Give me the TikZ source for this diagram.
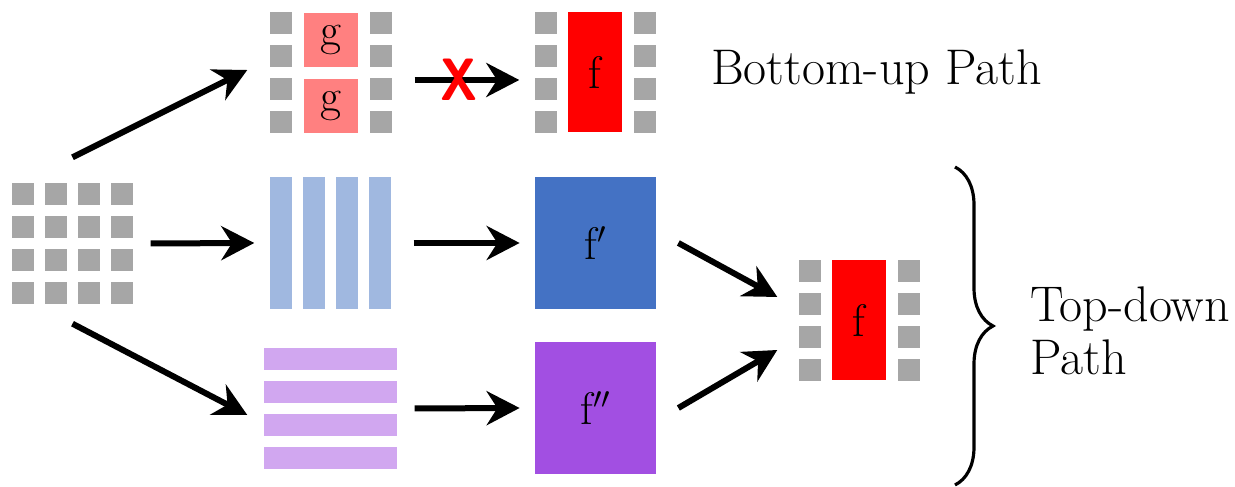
\documentclass[tikz,border=0pt]{standalone}
\usepackage{tikz}
\usepackage{amsmath}
\usepackage{xcolor}
\usetikzlibrary{arrows.meta, positioning, fit, calc, decorations.pathreplacing}
\definecolor{cellgray}{HTML}{A6A6A6}
\definecolor{gpink}{HTML}{FF8080}
\definecolor{fred}{HTML}{FF0000}
\definecolor{barblue}{HTML}{A0B8E0}
\definecolor{fblue}{HTML}{4472C4}
\definecolor{barpurple}{HTML}{D1A7F0}
\definecolor{fpurple}{HTML}{A24FE2}

\begin{document}
\begin{tikzpicture}[
  every node/.style={font=\fontsize{26}{31}\selectfont},
  pathlabel/.style={inner sep=0pt, font=\fontsize{28.5}{30.5}\selectfont},
  cell/.style={rectangle, fill=cellgray, minimum size=0.44cm, inner sep=0pt},
  feat/.style={rectangle, inner sep=0pt},
  blk/.style={inner sep=0pt},
  arr/.style={-{Stealth[length=0.66cm, width=0.68cm]}, line width=0.12cm},
]
\useasboundingbox (0,0) rectangle (24.7,9.74);

% Input feature map
\foreach \i in {0,...,3}
  \foreach \j in {0,...,3}
    \node[cell] (in-\i-\j) at ({0.46+0.66*\i}, {5.86-0.66*\j}) {};
\node[blk, fit=(in-0-0)(in-3-3)] (input) {};

% Bottom-up branch
\foreach \j in {0,...,3} {
  \node[cell] (gl-\j) at (5.62, {9.28-0.66*\j}) {};
  \node[cell] (gr-\j) at (7.62, {9.28-0.66*\j}) {};
  \node[cell] (fl-\j) at (10.92, {9.28-0.66*\j}) {};
  \node[cell] (fr-\j) at (12.90, {9.28-0.66*\j}) {};
}
\node[feat, fill=gpink, minimum size=1.08cm] (g1) at (6.62, 8.94) {g};
\node[feat, fill=gpink, minimum size=1.08cm] (g2) at (6.62, 7.62) {g};
\node[blk, fit=(gl-0)(gr-3)] (gpair) {};
\node[feat, fill=fred, minimum width=1.08cm, minimum height=2.4cm] (fa) at (11.90, 8.29) {f};
\node[blk, fit=(fl-0)(fr-3)] (ftop) {};
\node[pathlabel, right=1.08cm of ftop] (bulabel) {Bottom-up Path};

% Top-down branches
\foreach \i in {0,...,3}
  \node[feat, fill=barblue, minimum width=0.44cm, minimum height=2.64cm] (vb-\i) at ({5.62+0.66*\i}, 4.88) {};
\node[blk, fit=(vb-0)(vb-3)] (vbars) {};
\foreach \j in {0,...,3}
  \node[feat, fill=barpurple, minimum width=2.66cm, minimum height=0.44cm] (hb-\j) at (6.61, {2.56-0.66*\j}) {};
\node[blk, fit=(hb-0)(hb-3)] (hbars) {};
\node[feat, fill=fblue, minimum width=2.42cm, minimum height=2.64cm] (fprime) at (11.91, 4.88) {f$'$};
\node[feat, fill=fpurple, minimum width=2.42cm, minimum height=2.64cm] (fdprime) at (11.91, 1.58) {f$''$};

% Merged output
\foreach \j in {0,...,3} {
  \node[cell] (ol-\j) at (16.20, {4.32-0.66*\j}) {};
  \node[cell] (or-\j) at (18.18, {4.32-0.66*\j}) {};
}
\node[feat, fill=fred, minimum width=1.08cm, minimum height=2.4cm] (fb) at (17.18, 3.34) {f};
\node[blk, fit=(ol-0)(or-3)] (fout) {};

% Arrows
\draw[arr] ([yshift=0.5cm]input.north) -- ([xshift=-0.44cm, yshift=0.05cm]gpair.west);
\draw[arr] ([xshift=0.34cm]input.east) -- ([xshift=-0.3cm]vbars.west);
\draw[arr] ([yshift=-0.38cm]input.south) -- ([xshift=-0.32cm, yshift=-0.13cm]hbars.west);
\draw[arr] ([xshift=0.44cm, yshift=-0.15cm]gpair.east) -- node[pos=0.42, text=fred, font=\fontsize{34}{34}\sffamily\bfseries, xscale=0.85, inner sep=0pt] (cut) {X} ([xshift=-0.3cm, yshift=-0.15cm]ftop.west);
\draw[arr] ([xshift=0.44cm]vbars.east) -- ([xshift=-0.3cm]fprime.west);
\draw[arr] ([xshift=0.34cm]hbars.east) -- ([xshift=-0.3cm]fdprime.west);
\draw[arr] ([xshift=0.44cm]fprime.east) -- ([xshift=-0.42cm, yshift=0.47cm]fout.west);
\draw[arr] ([xshift=0.44cm]fdprime.east) -- ([xshift=-0.42cm, yshift=-0.59cm]fout.west);

% Brace over the top-down part
\coordinate (brtop) at (19.1, 6.40);
\coordinate (brbot) at (19.1, 0.04);
\coordinate (brtip) at (19.86, 3.22);
\draw[line width=1.8pt, decorate, decoration={brace, amplitude=0.76cm}] (brtop) -- (brbot);
\node[pathlabel, anchor=west, align=left] (tdlabel) at ([xshift=0.74cm, yshift=-0.1cm]brtip) {Top-down\\Path};

\end{tikzpicture}
\end{document}
